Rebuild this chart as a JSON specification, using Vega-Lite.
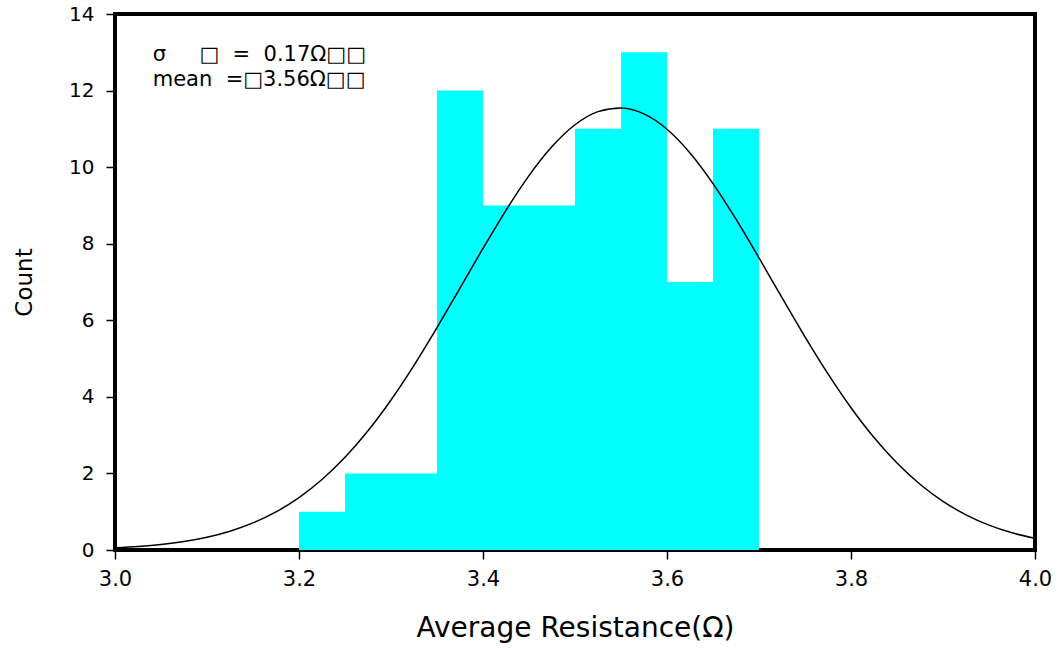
{
  "$schema": "https://vega.github.io/schema/vega-lite/v6.json",
  "width": 920,
  "height": 536,
  "autosize": {"type": "none"},
  "padding": {"left": 115, "top": 14, "right": 25, "bottom": 98},
  "background": "white",
  "config": {
    "view": {"stroke": "black", "strokeWidth": 4},
    "font": "DejaVu Sans",
    "axis": {
      "grid": false,
      "domain": false,
      "labelFlush": false,
      "tickColor": "black",
      "tickWidth": 1.5,
      "tickSize": 9,
      "labelFont": "DejaVu Sans",
      "labelColor": "black",
      "titleFont": "DejaVu Sans",
      "titleFontWeight": "normal",
      "titleColor": "black"
    }
  },
  "datasets": {
    "bins": [
      {"bin_start": 3.20, "bin_end": 3.25, "count": 1},
      {"bin_start": 3.25, "bin_end": 3.30, "count": 2},
      {"bin_start": 3.30, "bin_end": 3.35, "count": 2},
      {"bin_start": 3.35, "bin_end": 3.40, "count": 12},
      {"bin_start": 3.40, "bin_end": 3.45, "count": 9},
      {"bin_start": 3.45, "bin_end": 3.50, "count": 9},
      {"bin_start": 3.50, "bin_end": 3.55, "count": 11},
      {"bin_start": 3.55, "bin_end": 3.60, "count": 13},
      {"bin_start": 3.60, "bin_end": 3.65, "count": 7},
      {"bin_start": 3.65, "bin_end": 3.70, "count": 11}
    ],
    "curve": [
      {"r": 3.000, "c": 0.058},
      {"r": 3.025, "c": 0.093},
      {"r": 3.050, "c": 0.145},
      {"r": 3.075, "c": 0.223},
      {"r": 3.100, "c": 0.335},
      {"r": 3.125, "c": 0.492},
      {"r": 3.150, "c": 0.708},
      {"r": 3.175, "c": 0.995},
      {"r": 3.200, "c": 1.368},
      {"r": 3.225, "c": 1.840},
      {"r": 3.250, "c": 2.420},
      {"r": 3.275, "c": 3.114},
      {"r": 3.300, "c": 3.919},
      {"r": 3.325, "c": 4.824},
      {"r": 3.350, "c": 5.808},
      {"r": 3.375, "c": 6.839},
      {"r": 3.400, "c": 7.876},
      {"r": 3.425, "c": 8.873},
      {"r": 3.450, "c": 9.777},
      {"r": 3.475, "c": 10.537},
      {"r": 3.500, "c": 11.107},
      {"r": 3.525, "c": 11.451},
      {"r": 3.550, "c": 11.548},
      {"r": 3.575, "c": 11.391},
      {"r": 3.600, "c": 10.989},
      {"r": 3.625, "c": 10.370},
      {"r": 3.650, "c": 9.571},
      {"r": 3.675, "c": 8.640},
      {"r": 3.700, "c": 7.629},
      {"r": 3.725, "c": 6.589},
      {"r": 3.750, "c": 5.566},
      {"r": 3.775, "c": 4.599},
      {"r": 3.800, "c": 3.717},
      {"r": 3.825, "c": 2.938},
      {"r": 3.850, "c": 2.271},
      {"r": 3.875, "c": 1.717},
      {"r": 3.900, "c": 1.270},
      {"r": 3.925, "c": 0.919},
      {"r": 3.950, "c": 0.650},
      {"r": 3.975, "c": 0.450},
      {"r": 4.000, "c": 0.305}
    ],
    "notes": [
      {"line1": "σ\u00a0\u00a0\u00a0\u00a0\u00a0□\u00a0\u00a0=\u00a0\u00a00.17Ω□□", "line2": "mean\u00a0\u00a0=□3.56Ω□□"}
    ]
  },
  "layer": [
    {
      "data": {"name": "bins"},
      "mark": {"type": "rect", "color": "#00FFFF"},
      "encoding": {
        "x": {
          "field": "bin_start",
          "type": "quantitative",
          "scale": {"domain": [3, 4], "nice": false, "zero": false},
          "axis": {
            "title": "Average Resistance(Ω)",
            "values": [3.0, 3.2, 3.4, 3.6, 3.8, 4.0],
            "format": ".1f",
            "labelFontSize": 21,
            "labelPadding": 9,
            "titleFontSize": 28,
            "titlePadding": 25
          }
        },
        "x2": {"field": "bin_end"},
        "y": {
          "field": "count",
          "type": "quantitative",
          "scale": {"domain": [0, 14], "nice": false},
          "axis": {
            "title": "Count",
            "values": [0, 2, 4, 6, 8, 10, 12, 14],
            "labelFontSize": 20,
            "labelPadding": 12,
            "titleFontSize": 23,
            "titlePadding": 32
          }
        },
        "y2": {"datum": 0}
      }
    },
    {
      "data": {"name": "curve"},
      "mark": {"type": "line", "color": "black", "strokeWidth": 1.5, "interpolate": "monotone", "clip": true},
      "encoding": {
        "x": {"field": "r", "type": "quantitative"},
        "y": {"field": "c", "type": "quantitative"}
      }
    },
    {
      "data": {"name": "notes"},
      "mark": {"type": "text", "align": "left", "baseline": "middle", "fontSize": 21, "font": "DejaVu Sans", "color": "black"},
      "encoding": {
        "x": {"datum": 3.041, "type": "quantitative"},
        "y": {"datum": 12.92, "type": "quantitative"},
        "text": {"field": "line1"}
      }
    },
    {
      "data": {"name": "notes"},
      "mark": {"type": "text", "align": "left", "baseline": "middle", "fontSize": 21, "font": "DejaVu Sans", "color": "black"},
      "encoding": {
        "x": {"datum": 3.041, "type": "quantitative"},
        "y": {"datum": 12.27, "type": "quantitative"},
        "text": {"field": "line2"}
      }
    }
  ]
}
